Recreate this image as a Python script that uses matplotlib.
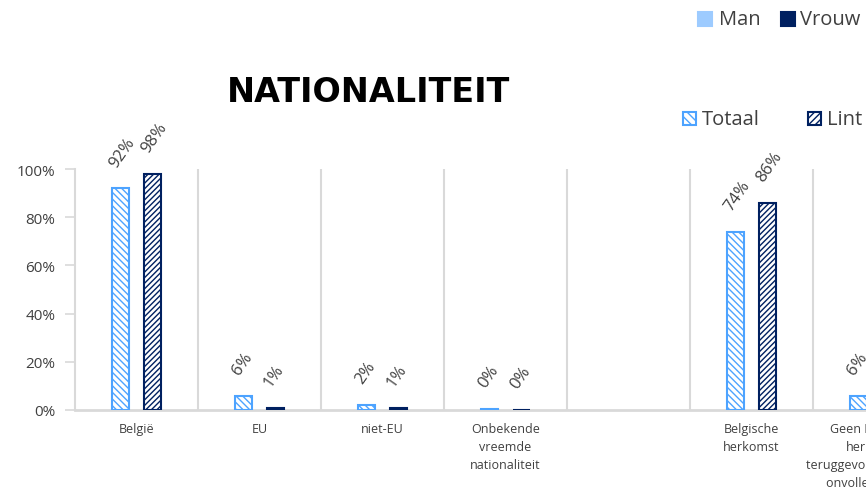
import numpy as np
import matplotlib
matplotlib.use("Agg")
import matplotlib.pyplot as plt
from matplotlib.patches import Rectangle
from matplotlib.ticker import PercentFormatter

# Data
categories = [
    "België",
    "EU",
    "niet-EU",
    "Onbekende\nvreemde\nnationaliteit",
    "",
    "Belgische\nherkomst",
    "Geen Belgische\nherkomst\nteruggevonden wegens\nonvolledige data",
]
totaal = [0.92, 0.06, 0.02, 0.004, np.nan, 0.74, 0.06]
lint = [0.98, 0.01, 0.01, 0.0, np.nan, 0.86, 0.02]
totaal_labels = ["92%", "6%", "2%", "0%", "", "74%", "6%"]
lint_labels = ["98%", "1%", "1%", "0%", "", "86%", "2%"]

# Styling
LIGHT = "#4DA3FF"
NAVY = "#002060"
MAN = "#9DCBFF"
GRID = "#D9D9D9"
TXT = "#404040"
FONT = "Open Sans"

plt.rcParams["font.family"] = FONT
plt.rcParams["hatch.linewidth"] = 1.0

W, H = 866, 489
fig = plt.figure(figsize=(W / 100, H / 100), dpi=100)

# plot area runs past the right edge (the reference is cropped)
n = len(categories)
cat_w = 123
ax = fig.add_axes([75 / W, 78 / H, n * cat_w / W, 241 / H])

x = np.arange(n)
bw = 0.146
off = 0.13
ax.bar(x - off, totaal, bw, facecolor="white", edgecolor=LIGHT,
       hatch="\\\\\\\\\\", linewidth=1.5, zorder=3)
ax.bar(x + off, lint, bw, facecolor="white", edgecolor=NAVY,
       hatch="//////", linewidth=1.5, zorder=3)

for xs, vals, labs in [(x - off, totaal, totaal_labels), (x + off, lint, lint_labels)]:
    for xi, v, lab in zip(xs, vals, labs):
        if np.isnan(v):
            continue
        ax.annotate(lab, (xi, v), xytext=(-8, 23), textcoords="offset pixels",
                    ha="left", va="center", rotation=55, rotation_mode="anchor",
                    fontsize=12, color=TXT, annotation_clip=False)

ax.set_xlim(-0.5, n - 0.5)
ax.set_ylim(0, 1)
ax.set_yticks(np.arange(0, 1.01, 0.2))
ax.yaxis.set_major_formatter(PercentFormatter(1.0, decimals=0))
ax.set_xticks(x)
ax.set_xticklabels(categories, fontsize=9, color=TXT, linespacing=1.5)
ax.tick_params(axis="x", length=0, pad=9)
ax.tick_params(axis="y", length=7, width=1.2, color=GRID, labelsize=11,
               labelcolor=TXT, pad=7)

# category separators
for b in x[:-1] + 0.5:
    ax.plot([b, b], [0, 1], color=GRID, lw=1.5, zorder=1)

for s in ["top", "right"]:
    ax.spines[s].set_visible(False)
ax.spines["left"].set_color(GRID)
ax.spines["left"].set_linewidth(1.5)
ax.spines["bottom"].set_color(GRID)
ax.spines["bottom"].set_linewidth(2)

fig.text(368 / W, 1 - 93 / H, "NATIONALITEIT", ha="center", va="center",
         fontsize=24, fontweight="bold", color="black", family="DejaVu Sans")

# legends (partly cut off at the right edge, as in the reference)
def legend_box(px, py, size, face, edge, hatch=None):
    fig.add_artist(Rectangle((px / W, 1 - (py + size) / H), size / W, size / H,
                             transform=fig.transFigure, facecolor=face,
                             edgecolor=edge, hatch=hatch, linewidth=1.5))

legend_box(698, 13, 14, MAN, MAN)
fig.text(719 / W, 1 - 20 / H, "Man", fontsize=14.5, color=TXT, va="center")
legend_box(781, 13, 14, NAVY, NAVY)
fig.text(800 / W, 1 - 20 / H, "Vrouw", fontsize=14.5, color=TXT, va="center")

legend_box(683, 113, 13, "white", LIGHT, "\\\\\\\\")
fig.text(702 / W, 1 - 120 / H, "Totaal", fontsize=14.5, color=TXT, va="center")
legend_box(808, 113, 13, "white", NAVY, "/////")
fig.text(827 / W, 1 - 120 / H, "Lint", fontsize=14.5, color=TXT, va="center")

fig.savefig("out.png", dpi=100)
